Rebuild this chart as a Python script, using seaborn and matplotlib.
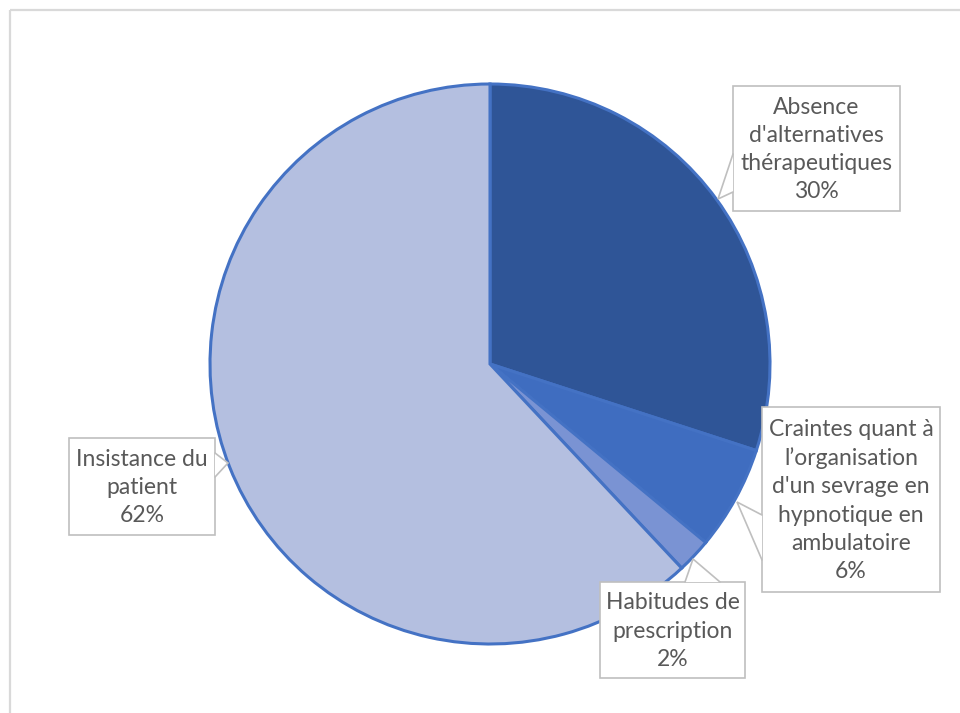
import matplotlib
matplotlib.use("Agg")
import matplotlib.pyplot as plt
from matplotlib.patches import Rectangle, Polygon
import seaborn as sns

# ---- data ----
categories = ["Absence\nd'alternatives\nthérapeutiques",
              "Craintes quant à\nl\u2019organisation\nd'un sevrage en\nhypnotique en\nambulatoire",
              "Habitudes de\nprescription",
              "Insistance du\npatient"]
values = [30, 6, 2, 62]
colors = ["#2F5597", "#3F6DC0", "#7A93D3", "#B4BFE0"]

sns.set_theme(style="white")
plt.rcParams['font.family'] = ['Lato', 'DejaVu Sans']

W, H = 960, 713
fig = plt.figure(figsize=(W / 100, H / 100), dpi=100)
ax = fig.add_axes([0, 0, 1, 1])

ax.pie(values, colors=colors, startangle=-90, counterclock=True,
       center=(490, 364), radius=280,
       wedgeprops=dict(edgecolor="#4472C4", linewidth=2.2))
ax.set_xlim(0, W)
ax.set_ylim(H, 0)
ax.set_aspect('equal')
ax.axis('off')

# outer chart border
ax.add_patch(Rectangle((10, 10), 960, 720, fill=False, edgecolor="#D9D9D9",
                       linewidth=1.6, zorder=1))

GRAY = "#BFBFBF"
TXT = "#595959"

# callout layout: box (x0, y0, x1, y1), pointer (p1, tip, p2)
layout = [
    ((733, 86, 900, 211), ((733, 154), (718, 199), (733, 192))),
    ((762, 407, 940, 592), ((762, 515), (737, 502), (762, 560))),
    ((600, 582, 745, 678), ((685, 582), (693, 559), (720, 582))),
    ((69, 438, 215, 535), ((215, 453), (228, 463), (215, 477))),
]

for (cat, val), (box, ptr) in zip(zip(categories, values), layout):
    x0, y0, x1, y1 = box
    ax.add_patch(Rectangle((x0, y0), x1 - x0, y1 - y0, facecolor="white",
                           edgecolor=GRAY, linewidth=1.2, zorder=5))
    ax.add_patch(Polygon(ptr, closed=True, facecolor="white", edgecolor="none",
                         zorder=6))
    ax.plot([ptr[0][0], ptr[1][0], ptr[2][0]], [ptr[0][1], ptr[1][1], ptr[2][1]],
            color=GRAY, linewidth=1.2, zorder=7, solid_joinstyle='miter')
    ax.text((x0 + x1) / 2, (y0 + y1) / 2 + 1, f"{cat}\n{val}%", ha="center",
            va="center", color=TXT, fontsize=16.5, linespacing=1.43, zorder=8)

fig.savefig("out.png", dpi=100, facecolor="white")
